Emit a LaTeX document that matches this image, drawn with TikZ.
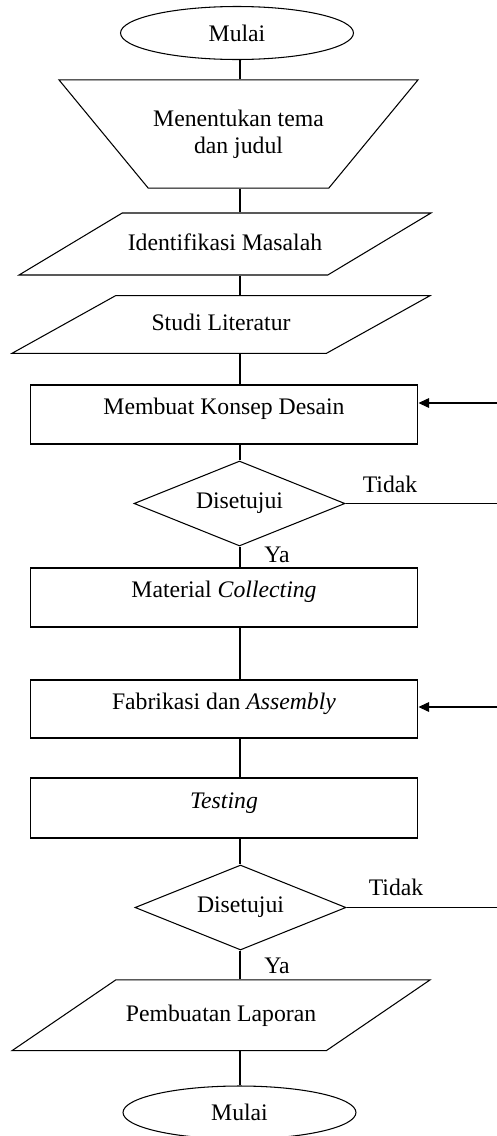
\documentclass[tikz,border=0pt]{standalone}
\usepackage{fontspec}
\setmainfont{Liberation Serif}
\usetikzlibrary{arrows.meta,positioning,shapes.geometric}

\begin{document}
\begin{tikzpicture}[x=0.02cm, y=-0.02cm, line width=0.6pt,
        every node/.style={font=\fontsize{13.5}{15.5}\selectfont, inner sep=0pt},
        terminal/.style={draw, ellipse, minimum width=4.66cm, minimum height=1.06cm},
        manual/.style={draw, trapezium, trapezium left angle=129.5, trapezium right angle=129.5,
            trapezium stretches body, minimum width=7.18cm, inner ysep=16.9pt, align=center},
        datain/.style={draw, trapezium, trapezium stretches body, minimum width=8.36cm,
            text height=10pt, text depth=3pt},
        process/.style={draw, rectangle, minimum width=7.76cm, text height=10pt, text depth=10pt},
        decision/.style={draw, diamond, shape aspect=2.48, minimum width=4.22cm, minimum height=1.7cm},
        arrow/.style={-{Triangle[length=6pt,width=5.5pt]}}]
            \useasboundingbox (0,0) rectangle (497,1136);

            % Flow steps
            \node[terminal] (mulai) at (237,33) {Mulai};
            \node[manual] (tema) at (238.5,134) {Menentukan tema\\dan judul};
            \node[datain, trapezium left angle=31, trapezium right angle=149,
                minimum width=8.24cm, inner ysep=11.14pt] (masalah) at (225,244) {Identifikasi Masalah};
            \node[datain, trapezium left angle=29.1, trapezium right angle=150.9,
                inner ysep=9.89pt] (literatur) at (221,324.5) {Studi Literatur};
            \node[process, minimum height=1.18cm] (konsep) at (224,414.5) {Membuat Konsep Desain};
            \node[decision] (setuju1) at (239.5,503.5) {Disetujui};
            \node[process, minimum height=1.18cm] (material) at (224,597.5) {Material \textit{Collecting}};
            \node[process, minimum height=1.16cm] (fabrikasi) at (224,709) {Fabrikasi dan \textit{Assembly}};
            \node[process, minimum height=1.2cm] (testing) at (224,808) {\textit{Testing}};
            \node[decision] (setuju2) at (240.5,907.5) {Disetujui};
            \node[datain, trapezium left angle=34.3, trapezium right angle=145.7,
                inner ysep=13.62pt] (laporan) at (221,1015.3) {Pembuatan Laporan};
            \node[terminal] (selesai) at (239.5,1112.5) {Mulai};

            % Main line
            \coordinate (axis) at (240,0);
            \foreach \a/\b in {mulai/tema, tema/masalah, masalah/literatur, literatur/konsep,
                konsep/setuju1, setuju1/material, material/fabrikasi, fabrikasi/testing,
                testing/setuju2, setuju2/laporan, laporan/selesai} {
                \draw (\a.south -| axis) -- (\b.north -| axis);
            }

            % Labels
            \node (ya1) at (277,555) {Ya};
            \node (ya2) at (277,966) {Ya};
            \node (tidak1) at (390,484) {Tidak};
            \node (tidak2) at (396,887) {Tidak};

            % Feedback lines
            \coordinate (tolak1) at (497,503.5);
            \coordinate (tolak2) at (497,907.5);
            \coordinate (balik1) at (497,403);
            \coordinate (balik2) at (497,707);
            \draw (setuju1.east) -- (tolak1);
            \draw (setuju2.east) -- (tolak2);
            \draw[arrow] (balik1) -- (balik1 -| konsep.east);
            \draw[arrow] (balik2) -- (balik2 -| fabrikasi.east);
        \end{tikzpicture}
\end{document}
